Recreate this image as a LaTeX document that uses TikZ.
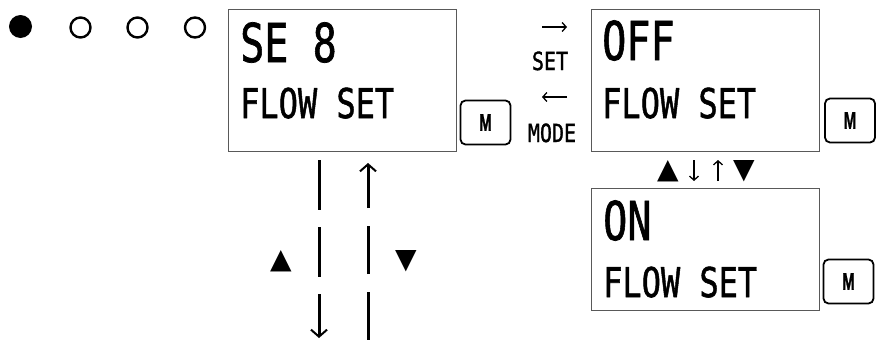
\documentclass[tikz,border=0pt]{standalone}
\usepackage{fontspec}
\usepackage{graphicx}
\newfontfamily\lcdfont[FakeBold=1.4]{DejaVu Sans Mono}
\newfontfamily\btnfont[FakeBold=1.5]{Liberation Sans Bold}
\newfontfamily\symfont{DejaVu Sans}
\usetikzlibrary{arrows.meta}
\newcommand{\nrw}[2][0.75]{\scalebox{#1}[1]{#2}}
\begin{document}
\begin{tikzpicture}[x=1pt,y=-1pt]
\tikzset{
  lcdbox/.style={draw=black!65, line width=1pt, minimum width=228pt, minimum height=142pt, anchor=north west, inner sep=0pt},
  mbtn/.style={draw=black, line width=1.8pt, rounded corners=5pt, minimum width=50pt, minimum height=44pt, inner sep=0pt, font=\btnfont\fontsize{24}{24}\selectfont},
  bigtxt/.style={anchor=base west, inner sep=0pt, font=\lcdfont\fontsize{53.5}{54}\selectfont},
  midtxt/.style={anchor=base west, inner sep=0pt, font=\lcdfont\fontsize{41}{41}\selectfont},
  keytxt/.style={anchor=base, inner sep=0pt, font=\lcdfont\fontsize{25}{25}\selectfont},
  tri/.style={inner sep=0pt, font=\symfont\fontsize{28}{28}\selectfont},
  bigarr/.style={line width=3pt, -{Straight Barb[length=7pt,width=16pt,line width=2pt]}},
  smallarr/.style={line width=1.3pt, -{Straight Barb[length=4pt,width=9pt]}},
  dotfull/.style={circle, fill=black, minimum size=23pt, inner sep=0pt},
  dotopen/.style={circle, draw=black, line width=2.4pt, minimum size=20pt, inner sep=0pt},
}
\useasboundingbox (0,0) rectangle (879,340);
% dots
\node[dotfull] (d1) at (20.5,26.5) {};
\node[dotopen] (d2) at (80.5,27.5) {};
\node[dotopen] (d3) at (137.5,27.5) {};
\node[dotopen] (d4) at (195,27.5) {};
% boxes
\node[lcdbox] (b1) at (228,9) {};
\node[lcdbox] (b2) at (591,9) {};
\node[lcdbox, minimum height=122pt] (b3) at (591,188) {};
% texts
\node[bigtxt] (t1a) at (240,62) {\nrw{SE 8}};
\node[midtxt] (t1b) at (240,118) {\nrw[0.78]{FLOW SET}};
\node[bigtxt] (t2a) at (602,60) {\nrw{OFF}};
\node[midtxt] (t2b) at (602,118) {\nrw[0.78]{FLOW SET}};
\node[bigtxt] (t3a) at (603,240) {\nrw{ON}};
\node[midtxt] (t3b) at (603,297) {\nrw[0.78]{FLOW SET}};
% buttons
\node[mbtn] (m1) at (485.5,122.5) {\nrw[0.62]{M}};
\node[mbtn] (m2) at (850,120.5) {\nrw[0.62]{M}};
\node[mbtn] (m3) at (848.5,281.5) {\nrw[0.62]{M}};
% SET / MODE
\node[keytxt] (kset) at (550,70) {\nrw[0.8]{SET}};
\node[keytxt] (kmode) at (552,142) {\nrw[0.8]{MODE}};
\coordinate (ra) at (542,27);
\coordinate (rb) at (567,27);
\coordinate (la) at (567,97);
\coordinate (lb) at (542,97);
\draw[smallarr] (ra) -- (rb);
\draw[smallarr] (la) -- (lb);
% small arrows between b2 and b3
\node[tri] (s1) at (668,171) {▲};
\node[tri] (s2) at (744,171) {▼};
\coordinate (sd1) at (694,160);
\coordinate (sd2) at (694,181);
\coordinate (su1) at (718,181);
\coordinate (su2) at (718,160);
\draw[smallarr] (sd1) -- (sd2);
\draw[smallarr] (su1) -- (su2);
% big columns under b1
\coordinate (cl1) at (319,160);
\coordinate (cl2) at (319,338);
\coordinate (cr1) at (368,340);
\coordinate (cr2) at (368,163);
\draw[bigarr, dash pattern=on 50pt off 17pt] (cl1) -- (cl2);
\draw[bigarr, dash pattern=on 48pt off 18pt] (cr1) -- (cr2);
\node[tri] (bt1) at (281,261) {▲};
\node[tri] (bt2) at (406,261.5) {▼};
\end{tikzpicture}
\end{document}
